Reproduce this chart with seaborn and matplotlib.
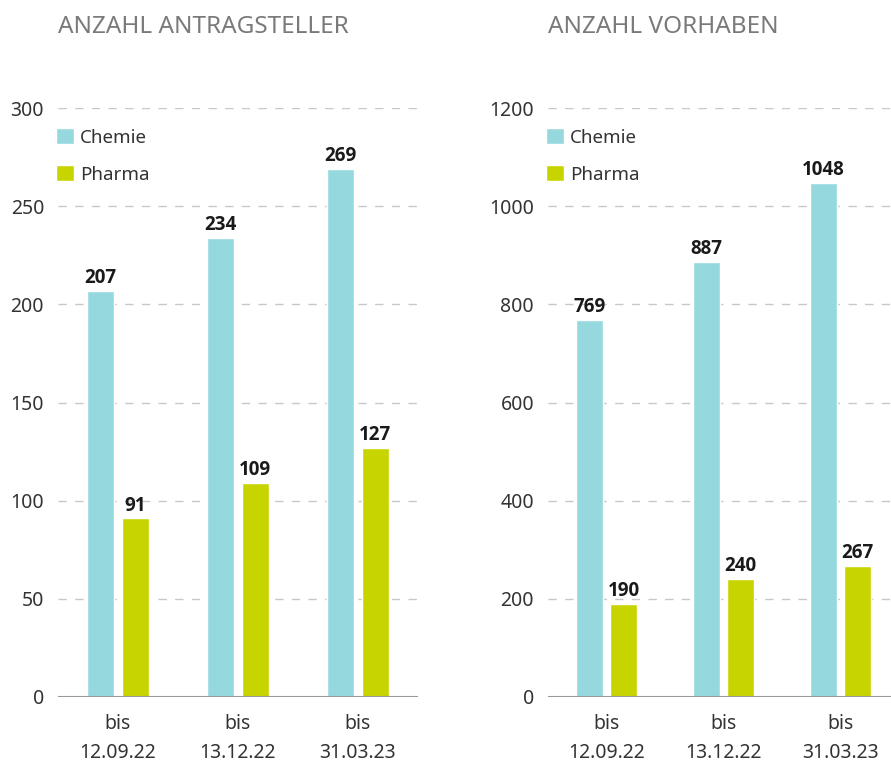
import numpy as np
import pandas as pd
import matplotlib
matplotlib.use("Agg")
import matplotlib.pyplot as plt
import seaborn as sns

# data
perioden = ["bis\n12.09.22", "bis\n13.12.22", "bis\n31.03.23"]
branchen = ["Chemie", "Pharma"]
antragsteller_chemie = [207, 234, 269]
antragsteller_pharma = [91, 109, 127]
vorhaben_chemie = [769, 887, 1048]
vorhaben_pharma = [190, 240, 267]
titel = ["ANZAHL ANTRAGSTELLER", "ANZAHL VORHABEN"]

farben = {"Chemie": "#95d9de", "Pharma": "#c8d400"}

sns.set_theme(style="white")
plt.rcParams["font.family"] = ["Noto Sans", "DejaVu Sans"]

def long_df(chemie, pharma):
    rows = []
    for p, c, ph in zip(perioden, chemie, pharma):
        rows.append((p, "Chemie", c))
        rows.append((p, "Pharma", ph))
    return pd.DataFrame(rows, columns=["periode", "branche", "wert"])

fig = plt.figure(figsize=(8.91, 7.63), dpi=100)
ax1 = fig.add_axes([58/891, 66/763, 360/891, 589/763])
ax2 = fig.add_axes([548/891, 66/763, 351/891, 589/763])

setups = [
    (ax1, long_df(antragsteller_chemie, antragsteller_pharma), 300, 50),
    (ax2, long_df(vorhaben_chemie, vorhaben_pharma), 1200, 200),
]

for ax, df, ymax, step in setups:
    sns.barplot(data=df, x="periode", y="wert", hue="branche", hue_order=branchen,
                palette=farben, width=0.58, gap=0.22, ax=ax, saturation=1,
                order=perioden)
    ax.set_xlim(-0.5, 2.5)
    ax.set_ylim(0, ymax)
    ax.set_yticks(np.arange(0, ymax + 1, step))
    for y in np.arange(step, ymax + 1, step):
        ax.axhline(y, color="#c8c8c8", lw=1, dashes=(6, 6), zorder=0)
    ax.axhline(0, color="#999999", lw=1.5, zorder=3)
    for s in ax.spines.values():
        s.set_visible(False)
    ax.set_xlabel("")
    ax.set_ylabel("")
    ax.tick_params(axis="y", length=0, pad=10, labelsize=14, labelcolor="#333333")
    ax.tick_params(axis="x", length=0, pad=12, labelsize=14, labelcolor="#333333")
    for lbl in ax.get_xticklabels():
        lbl.set_linespacing(1.6)
    for cont in ax.containers:
        ax.bar_label(cont, padding=2, fontsize=13.5, fontweight="bold",
                     family=["Open Sans", "DejaVu Sans"], color="#1a1a1a")
    ax.legend(loc="upper left", bbox_to_anchor=(-0.005, 0.966), frameon=False,
              borderpad=0, borderaxespad=0, fontsize=13.5, handlelength=0.95,
              handleheight=0.95, handletextpad=0.3, labelspacing=1.0,
              labelcolor="#333333")

fig.text(58/891, 1 - 27/763, titel[0], fontsize=17.5, color="#7a7a7a", va="center", ha="left")
fig.text(548/891, 1 - 27/763, titel[1], fontsize=17.5, color="#7a7a7a", va="center", ha="left")

fig.savefig("out.png", dpi=100)
